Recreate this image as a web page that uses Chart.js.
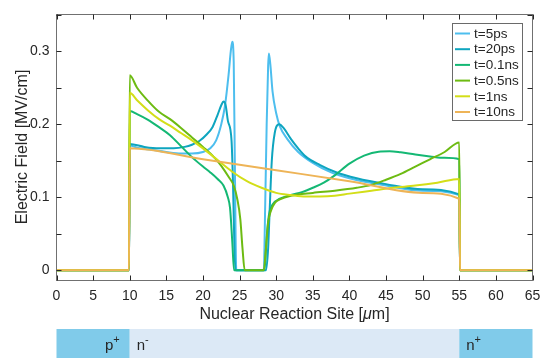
<!DOCTYPE html>
<html>
<head>
<meta charset="utf-8">
<script src="https://cdn.jsdelivr.net/npm/chart.js@4.4.1/dist/chart.umd.min.js"></script>
<style>
  html, body { margin: 0; padding: 0; background: #fff; }
  #wrap { position: relative; width: 542px; height: 358px; }
</style>
</head>
<body>
<div id="wrap"><canvas id="fieldChart"></canvas></div>
<script>
// electric field profiles along the diode, one array pair per time step

const seriesNames = ['t=5ps', 't=20ps', 't=0.1ns', 't=0.5ns', 't=1ns', 't=10ns'];

const pos5ps = [0, 9.9, 10, 11, 13, 15, 17, 18.5, 20, 21, 21.8, 22.5, 23.0, 23.5, 23.8, 24.0, 24.2, 24.35, 24.55, 28.3, 28.5, 28.7, 28.9, 29.0, 29.2, 29.5, 30, 30.5, 31.5, 33, 35, 37.5, 40, 45, 50, 55, 55.1, 65];
const field5ps = [0, 0, 0.171, 0.168, 0.165, 0.162, 0.160, 0.160, 0.162, 0.167, 0.178, 0.200, 0.225, 0.268, 0.300, 0.313, 0.285, 0.15, 0, 0, 0.09, 0.2, 0.28, 0.297, 0.282, 0.245, 0.215, 0.197, 0.18, 0.162, 0.147, 0.134, 0.126, 0.116, 0.109, 0.103, 0, 0];

const pos20ps = [0, 9.9, 10, 12, 14, 16, 17.5, 18.5, 19.5, 20.5, 21.3, 22.0, 22.5, 22.8, 23.1, 23.4, 23.9, 24.1, 24.3, 24.45, 28.6, 28.9, 29.1, 29.4, 29.8, 30.4, 31.0, 32, 33, 34, 36, 38, 41, 45, 50, 55, 55.1, 65];
const field20ps = [0, 0, 0.173, 0.169, 0.167, 0.167, 0.169, 0.172, 0.177, 0.186, 0.196, 0.213, 0.226, 0.231, 0.226, 0.205, 0.178, 0.12, 0.03, 0, 0, 0.03, 0.08, 0.15, 0.188, 0.2, 0.195, 0.18, 0.167, 0.156, 0.144, 0.135, 0.126, 0.118, 0.111, 0.104, 0, 0];

const pos01ns = [0, 9.9, 10, 11, 12.5, 14, 15.5, 17, 18.5, 20, 21, 22, 22.8, 23.4, 23.7, 24.0, 24.25, 28.4, 28.7, 29.0, 29.5, 30.5, 32, 33.5, 35, 36.5, 38, 40, 42, 44, 45.5, 47, 49, 51, 53, 55, 55.1, 65];
const field01ns = [0, 0, 0.218, 0.214, 0.206, 0.196, 0.185, 0.17, 0.155, 0.142, 0.134, 0.125, 0.116, 0.1, 0.085, 0.04, 0, 0, 0.045, 0.075, 0.09, 0.098, 0.103, 0.107, 0.113, 0.12, 0.13, 0.146, 0.157, 0.1625, 0.163, 0.1615, 0.1585, 0.156, 0.154, 0.152, 0, 0];

const pos05ns = [0, 9.9, 10, 11, 12.5, 14, 15.5, 17, 18.5, 20, 21.5, 22.5, 23.5, 24.2, 24.7, 25.1, 25.4, 25.7, 28.3, 28.6, 28.9, 29.3, 29.8, 30.5, 32, 35, 38, 41, 43, 45, 47, 49, 51, 53, 55, 55.1, 65];
const field05ns = [0, 0, 0.267, 0.25, 0.232, 0.217, 0.207, 0.195, 0.182, 0.169, 0.155, 0.143, 0.128, 0.116, 0.097, 0.07, 0.03, 0, 0, 0.03, 0.065, 0.082, 0.092, 0.097, 0.102, 0.106, 0.109, 0.113, 0.117, 0.124, 0.132, 0.142, 0.152, 0.162, 0.175, 0, 0];

const pos1ns = [0, 9.9, 10, 11, 12.5, 14, 15.5, 17, 18.5, 20, 22, 24, 26, 28, 30, 32, 34, 36, 38, 40, 43, 46, 49, 52, 55, 55.1, 65];
const field1ns = [0, 0, 0.243, 0.233, 0.219, 0.207, 0.198, 0.188, 0.178, 0.167, 0.151, 0.135, 0.122, 0.113, 0.106, 0.103, 0.101, 0.101, 0.102, 0.105, 0.109, 0.113, 0.116, 0.12, 0.125, 0, 0];

const pos10ns = [0, 9.9, 10, 20, 30, 40, 50, 55, 55.1, 65];
const field10ns = [0, 0, 0.167, 0.152, 0.137, 0.122, 0.106, 0.098, 0, 0];

const xTickValues = [0, 5, 10, 15, 20, 25, 30, 35, 40, 45, 50, 55, 60, 65];
const yTickValues = [0, 0.05, 0.1, 0.15, 0.2, 0.25, 0.3, 0.35];
const yLabelled = [0, 0.1, 0.2, 0.3];

// doping regions under the plot
const regionEdges = [0, 10, 55, 65];
const regionBase = ['p', 'n', 'n'];
const regionSup = ['+', '-', '+'];

const lineColors = ['#4dbeee', '#0ea5bf', '#14b874', '#6dbb12', '#d3de18', '#eeb457'];
const regionColors = ['#80cbea', '#dce9f6', '#80cbea'];
const FONT = "'Liberation Sans', Arial, sans-serif";

const toPoints = (xs, ys) => xs.map((x, i) => ({ x: x, y: ys[i] }));
const allSeries = [
    toPoints(pos5ps, field5ps),
    toPoints(pos20ps, field20ps),
    toPoints(pos01ns, field01ns),
    toPoints(pos05ns, field05ns),
    toPoints(pos1ns, field1ns),
    toPoints(pos10ns, field10ns)
];

const decor = {
    id: 'decor',
    afterDraw(chart) {
        const ctx = chart.ctx;
        const { left, right, top, bottom } = chart.chartArea;
        const xs = chart.scales.x, ys = chart.scales.y;
        const L = Math.floor(left) + 0.5, R = Math.floor(right) + 0.5;
        const T = Math.floor(top) + 0.5, B = Math.floor(bottom) + 0.5;
        ctx.save();

        // box
        ctx.strokeStyle = '#707070';
        ctx.lineWidth = 1;
        ctx.strokeRect(L, T, R - L, B - T);

        // inward ticks on all four sides
        ctx.strokeStyle = '#262626';
        ctx.beginPath();
        xTickValues.forEach(v => {
            const px = Math.round(xs.getPixelForValue(v)) + 0.5;
            ctx.moveTo(px, B); ctx.lineTo(px, B - 5);
            ctx.moveTo(px, T); ctx.lineTo(px, T + 5);
        });
        yTickValues.forEach(v => {
            const py = Math.round(ys.getPixelForValue(v)) + 0.5;
            ctx.moveTo(L, py); ctx.lineTo(L + 5, py);
            ctx.moveTo(R, py); ctx.lineTo(R - 5, py);
        });
        ctx.stroke();

        // axis titles
        ctx.fillStyle = '#262626';
        ctx.font = '16px ' + FONT;
        ctx.textBaseline = 'alphabetic';
        ctx.save();
        ctx.translate(26.5, (top + bottom) / 2);
        ctx.rotate(-Math.PI / 2);
        ctx.textAlign = 'center';
        ctx.fillText('Electric Field [MV/cm]', 0, 0);
        ctx.restore();

        const partA = 'Nuclear Reaction Site [', partB = '\u03bc', partC = 'm]';
        ctx.font = '16px ' + FONT;
        const wA = ctx.measureText(partA).width, wC = ctx.measureText(partC).width;
        ctx.font = 'italic 16px ' + FONT;
        const wB = ctx.measureText(partB).width;
        let tx = (left + right) / 2 - (wA + wB + wC) / 2;
        ctx.textAlign = 'left';
        ctx.font = '16px ' + FONT;
        ctx.fillText(partA, tx, 319);
        ctx.font = 'italic 16px ' + FONT;
        ctx.fillText(partB, tx + wA, 319);
        ctx.font = '16px ' + FONT;
        ctx.fillText(partC, tx + wA + wB, 319);

        // legend
        const lgX = 452.5, lgY = 23.5, lgW = 70, lgH = 97, step = 15.7;
        ctx.fillStyle = '#ffffff';
        ctx.fillRect(lgX, lgY, lgW, lgH);
        ctx.strokeStyle = '#6a6a6a';
        ctx.strokeRect(lgX, lgY, lgW, lgH);
        ctx.font = '13.5px ' + FONT;
        ctx.textBaseline = 'middle';
        chart.data.datasets.forEach((ds, i) => {
            const cy = 33.5 + i * step;
            ctx.strokeStyle = ds.borderColor;
            ctx.lineWidth = 2;
            ctx.beginPath();
            ctx.moveTo(455, cy); ctx.lineTo(470, cy);
            ctx.stroke();
            ctx.fillStyle = '#262626';
            ctx.fillText(ds.label, 474, cy + 0.5);
        });

        // doping bar
        const barTop = 329;
        for (let i = 0; i < regionBase.length; i++) {
            const x0 = xs.getPixelForValue(regionEdges[i]);
            const x1 = xs.getPixelForValue(regionEdges[i + 1]);
            ctx.fillStyle = regionColors[i];
            ctx.fillRect(x0, barTop, x1 - x0, chart.height - barTop);
        }
        ctx.fillStyle = '#262626';
        ctx.textBaseline = 'alphabetic';
        for (let i = 0; i < regionBase.length; i++) {
            ctx.font = '15px ' + FONT;
            const wb = ctx.measureText(regionBase[i]).width;
            ctx.font = '11px ' + FONT;
            const ws = ctx.measureText(regionSup[i]).width;
            let bx;
            if (i === 0) bx = xs.getPixelForValue(regionEdges[1]) - 10 - wb - ws;
            else bx = xs.getPixelForValue(regionEdges[i]) + 7;
            ctx.font = '15px ' + FONT;
            ctx.fillText(regionBase[i], bx, 350);
            ctx.font = '11px ' + FONT;
            ctx.fillText(regionSup[i], bx + wb, 343);
        }
        ctx.restore();
    }
};

new Chart(document.getElementById('fieldChart'), {
    type: 'line',
    data: {
        datasets: allSeries.map((pts, i) => ({
            label: seriesNames[i],
            data: pts,
            borderColor: lineColors[i],
            backgroundColor: lineColors[i],
            borderWidth: 2,
            pointRadius: 0,
            fill: false,
            cubicInterpolationMode: 'monotone',
            order: allSeries.length - i
        }))
    },
    options: {
        responsive: true,
        maintainAspectRatio: false,
        animation: false,
        devicePixelRatio: 1,
        layout: { padding: { top: 14, right: 9.5, bottom: 0, left: 0 } },
        plugins: { legend: { display: false }, tooltip: { enabled: false } },
        scales: {
            x: {
                type: 'linear',
                min: 0, max: 65,
                afterBuildTicks: s => { s.ticks = xTickValues.map(v => ({ value: v })); },
                afterFit: s => { s.height = 78; s.paddingLeft = 0; s.paddingRight = 0; },
                grid: { display: false, drawTicks: false },
                border: { display: false },
                ticks: { color: '#262626', font: { family: FONT, size: 14 }, padding: 8, maxRotation: 0, autoSkip: false }
            },
            y: {
                type: 'linear',
                min: -0.0133, max: 0.351,
                afterBuildTicks: s => { s.ticks = yTickValues.map(v => ({ value: v })); },
                afterFit: s => { s.width = 56.5; s.paddingTop = 0; s.paddingBottom = 0; },
                grid: { display: false, drawTicks: false },
                border: { display: false },
                ticks: {
                    color: '#262626', font: { family: FONT, size: 14 }, padding: 7, autoSkip: false,
                    callback: v => yLabelled.some(l => Math.abs(l - v) < 1e-9) ? String(v) : ''
                }
            }
        }
    },
    plugins: [decor]
});
</script>
</body>
</html>
